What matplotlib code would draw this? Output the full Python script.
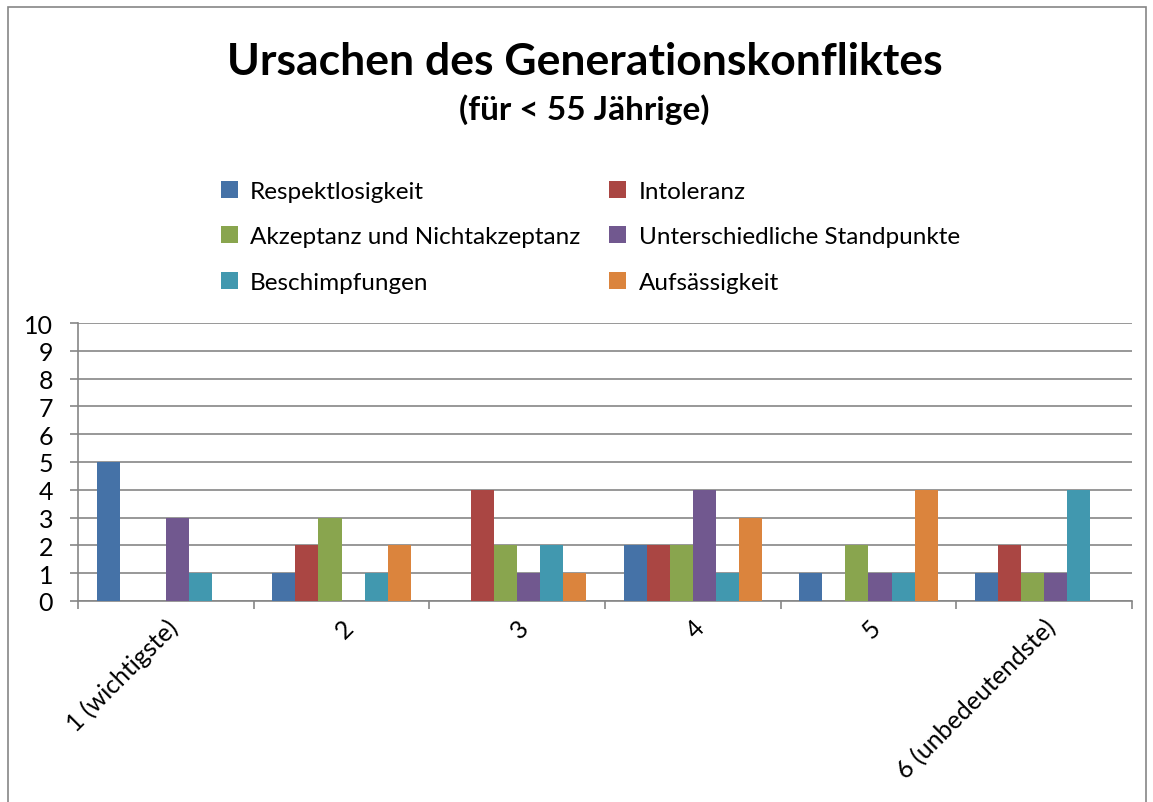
import numpy as np
import matplotlib
matplotlib.use("Agg")
import matplotlib.pyplot as plt
from matplotlib.patches import Rectangle, Patch

plt.rcParams['font.family'] = ['Lato', 'DejaVu Sans']

categories = ['1 (wichtigste)', '2', '3', '4', '5', '6 (unbedeutendste)']
series_names = ['Respektlosigkeit', 'Intoleranz', 'Akzeptanz und Nichtakzeptanz',
                'Unterschiedliche Standpunkte', 'Beschimpfungen', 'Aufsässigkeit']
respekt = [5, 1, 0, 2, 1, 1]
intoleranz = [0, 2, 4, 2, 0, 2]
akzeptanz = [0, 3, 2, 2, 2, 1]
standpunkte = [3, 0, 1, 4, 1, 1]
beschimpf = [1, 1, 2, 1, 1, 4]
aufsaessig = [0, 2, 1, 3, 4, 0]
colors = ['#4572A7', '#AA4643', '#89A54E', '#71588F', '#4198AF', '#DB843D']

series = [respekt, intoleranz, akzeptanz, standpunkte, beschimpf, aufsaessig]

fig = plt.figure(figsize=(11.53, 8.03), dpi=100)
fig.patches.append(Rectangle((8/1153, -0.02), (1146-8)/1153, 1 - 8/803 + 0.02,
                             transform=fig.transFigure, fill=False,
                             edgecolor='#868686', linewidth=1.2))

ax = fig.add_axes([78/1153, 1 - 602/803, (1132-78)/1153, (602-324)/803])

x = np.arange(1, len(categories) + 1)
w = 0.131
n = len(series)
handles = []
for i, (vals, col, name) in enumerate(zip(series, colors, series_names)):
    ax.bar(x + (i - (n - 1) / 2) * w, vals, width=w, color=col, zorder=3)
    handles.append(Patch(facecolor=col, label=name))

ax.set_xlim(0.5, 6.5)
ax.set_ylim(0, 10)
ax.set_yticks(range(0, 11))
ax.yaxis.grid(True, color='#868686', linewidth=1.2, zorder=0)
for s in ['top', 'right']:
    ax.spines[s].set_visible(False)
for s in ['left', 'bottom']:
    ax.spines[s].set_color('#868686')
    ax.spines[s].set_linewidth(1.2)
ax.tick_params(axis='y', length=6, color='#868686', width=1.2, labelsize=18, pad=12)

ax.set_xticks(x)
ax.set_xticklabels(categories, rotation=45, ha='right', va='top',
                   rotation_mode='anchor', fontsize=18)
ax.tick_params(axis='x', which='major', length=0, pad=10)
ax.set_xticks(np.arange(0.5, 7, 1), minor=True)
ax.tick_params(axis='x', which='minor', length=6, color='#868686', width=1.2)

fig.text(0.507, 1 - 62/803, 'Ursachen des Generationskonfliktes', ha='center', va='center',
         fontsize=32, fontweight='bold')
fig.text(0.507, 1 - 110/803, '(für < 55 Jährige)', ha='center', va='center',
         fontsize=24, fontweight='bold')

order = [0, 2, 4, 1, 3, 5]
fig.legend([handles[i] for i in order], [series_names[i] for i in order],
           ncol=2, loc='upper left', bbox_to_anchor=(199/1153, 1 - 160/803),
           frameon=False, fontsize=17.5, handlelength=0.7, handleheight=0.7,
           handletextpad=0.5, labelspacing=1.0, columnspacing=1.2)

fig.savefig('out.png', dpi=100)
